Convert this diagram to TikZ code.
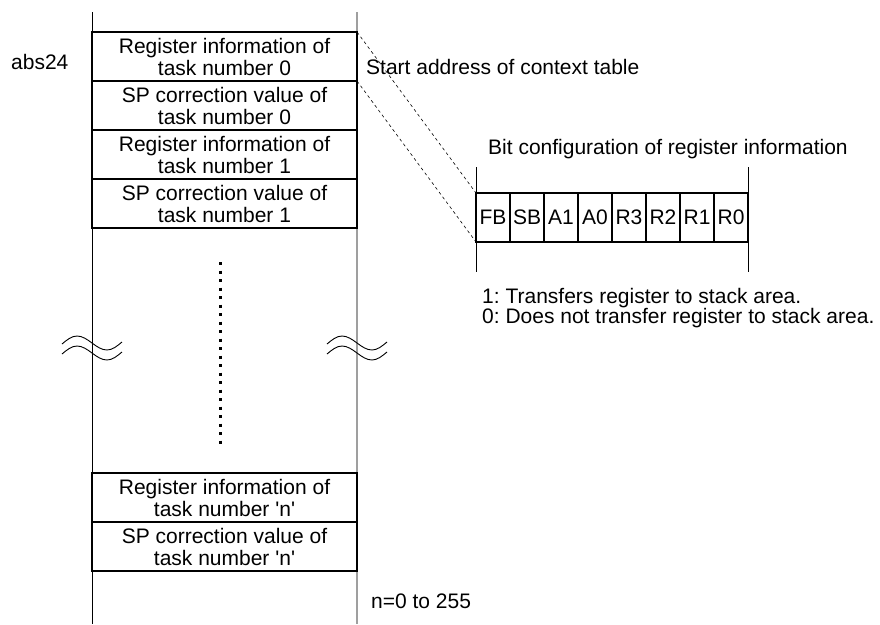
\documentclass[tikz,border=0pt]{standalone}
\usepackage{fontspec}
\setmainfont{Liberation Sans}
\usetikzlibrary{positioning}
\frenchspacing
\newcommand{\txtsize}{\fontsize{21}{22}\selectfont}
\tikzset{
  cell/.style={draw,line width=1.6pt,outer sep=0pt,inner sep=0pt,minimum width=265pt,minimum height=49pt,align=center,font=\txtsize},
  bitcell/.style={draw,line width=1.6pt,outer sep=0pt,inner sep=0pt,minimum width=34pt,minimum height=49pt,font=\txtsize},
  txt/.style={inner sep=0pt,anchor=west,font=\txtsize},
  brk/.style={line width=0.9pt}
}
\begin{document}
\begin{tikzpicture}[x=1pt,y=-1pt]
	\useasboundingbox (0,0) rectangle (880,624);
	% side lines of the table
	\coordinate (lt) at (92,12);
	\coordinate (lb) at (92,624);
	\coordinate (rt) at (357,12);
	\coordinate (rb) at (357,624);
	\draw[line width=0.9pt] (lt) -- (lb);
	\draw[line width=1.4pt,gray!75] (rt) -- (rb);
	% table entries
	\node[cell] (reg0) at (224.5,56.5) {Register information of\\task number 0};
	\node[cell,below=0pt of reg0] (sp0) {SP correction value of\\task number 0};
	\node[cell,below=0pt of sp0] (reg1) {Register information of\\task number 1};
	\node[cell,below=0pt of reg1] (sp1) {SP correction value of\\task number 1};
	\node[cell] (regn) at (224.5,497.5) {Register information of\\task number \textquotesingle n\textquotesingle};
	\node[cell,below=0pt of regn] (spn) {SP correction value of\\task number \textquotesingle n\textquotesingle};
	% omitted entries
	\coordinate (dtop) at (220,262);
	\coordinate (dbot) at (220,444);
	\draw[line width=3pt,dash pattern=on 3pt off 5.5pt] (dtop) -- (dbot);
	\draw[brk] (62,344) sin (77,336) cos (92,343) sin (107,350) cos (122,342);
	\draw[brk] (62,354) sin (77,346) cos (92,353) sin (107,360) cos (122,352);
	\draw[brk] (327,344) sin (342,336) cos (357,343) sin (372,350) cos (387,342);
	\draw[brk] (327,354) sin (342,346) cos (357,353) sin (372,360) cos (387,352);
	% labels
	\node[txt] (abs) at (11,62) {abs24};
	\node[txt] (start) at (366,67) {Start address of context table};
	\node[txt] (ncount) at (371,601) {n=0 to 255};
	% bit configuration
	\coordinate (ult) at (476,167);
	\coordinate (ulb) at (476,272);
	\coordinate (urt) at (748,167);
	\coordinate (urb) at (748,272);
	\draw[line width=0.6pt] (ult) -- (ulb);
	\draw[line width=0.6pt] (urt) -- (urb);
	\foreach \b [count=\i] in {FB,SB,A1,A0,R3,R2,R1,R0}
		\node[bitcell] (b\i) at (459+34*\i,217.5) {\b};
	\node[txt] (bitcfg) at (488,149) {Bit configuration of register information};
	\node[txt] (one) at (482,298) {1: Transfers register to stack area.};
	\node[txt] (zero) at (482,318) {0: Does not transfer register to stack area.};
	\draw[line width=0.6pt,dashed] (reg0.north east) -- (b1.north west);
	\draw[line width=0.6pt,dashed] (reg0.south east) -- (b1.south west);
\end{tikzpicture}
\end{document}
